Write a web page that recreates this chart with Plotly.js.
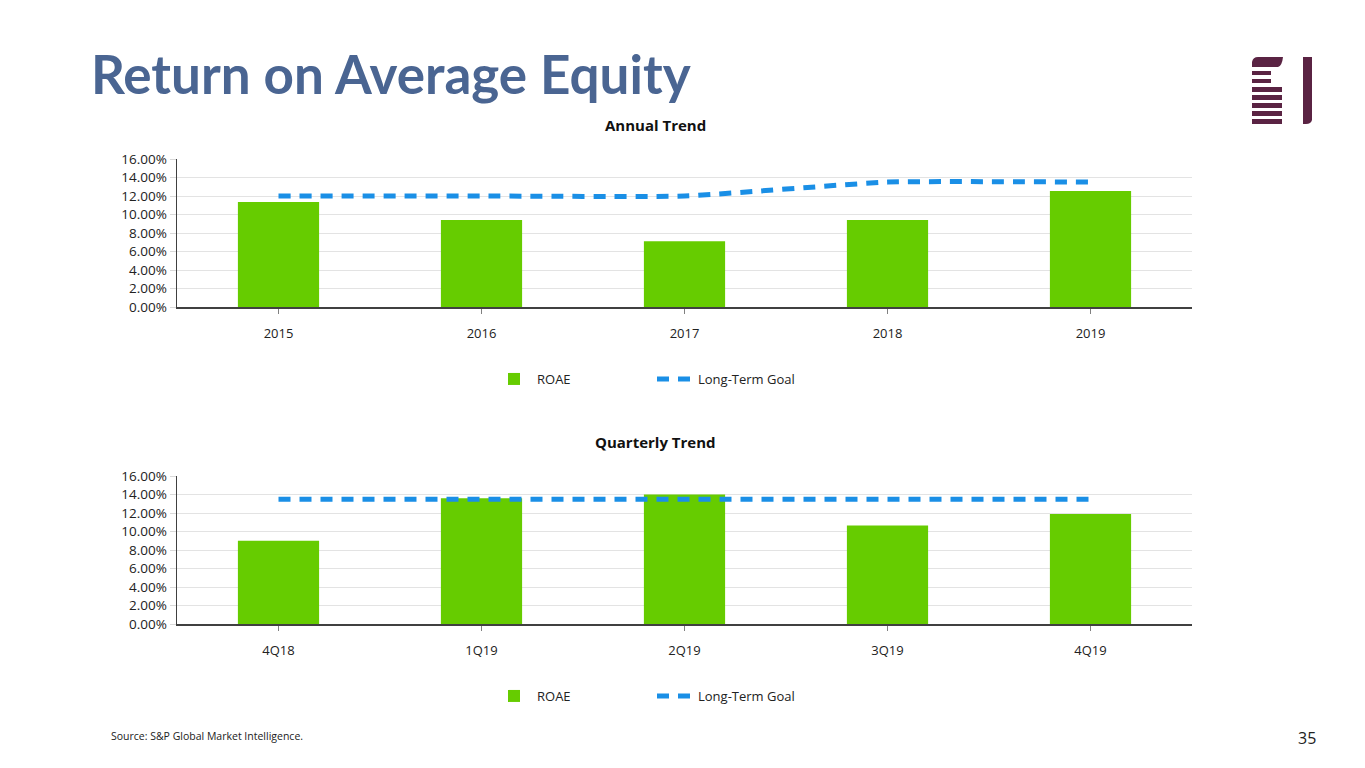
<!DOCTYPE html>
<html>
<head>
<meta charset="utf-8">
<script src="https://cdn.plot.ly/plotly-3.0.1.min.js"></script>
<style>
html,body{margin:0;padding:0;background:#fff;}
#chart{width:1365px;height:768px;}
</style>
</head>
<body>
<div id="chart"></div>
<script>
// ---- data ----
const annualCategories = ["2015", "2016", "2017", "2018", "2019"];
const annualROAE = [11.35, 9.4, 7.1, 9.4, 12.55];
const annualGoal = [12.0, 12.0, 12.0, 13.5, 13.5];

const quarterCategories = ["4Q18", "1Q19", "2Q19", "3Q19", "4Q19"];
const quarterROAE = [9.0, 13.6, 14.0, 10.65, 11.9];
const quarterGoal = [13.5, 13.5, 13.5, 13.5, 13.5];

const yTicks = [0, 2, 4, 6, 8, 10, 12, 14, 16];
const yTickLabels = ["0.00%", "2.00%", "4.00%", "6.00%", "8.00%", "10.00%", "12.00%", "14.00%", "16.00%"];

// ---- styling ----
const W = 1365, H = 768;
const barColor = "#66cc00";
const goalColor = "#1a8fe6";
const font = "Open Sans, Lato, sans-serif";
const px = v => v / W;
const py = v => 1 - v / H;

const traces = [
  {type: "bar", x: annualCategories, y: annualROAE, name: "ROAE", xaxis: "x", yaxis: "y",
   marker: {color: barColor}, width: 0.4, legend: "legend", hoverinfo: "skip"},
  {type: "scatter", mode: "lines", x: annualCategories, y: annualGoal, name: "Long-Term Goal", xaxis: "x", yaxis: "y",
   line: {color: goalColor, width: 5, dash: "12px,9px", shape: "spline", smoothing: 0.45}, legend: "legend", hoverinfo: "skip"},
  {type: "bar", x: quarterCategories, y: quarterROAE, name: "ROAE", xaxis: "x2", yaxis: "y2",
   marker: {color: barColor}, width: 0.4, legend: "legend2", hoverinfo: "skip"},
  {type: "scatter", mode: "lines", x: quarterCategories, y: quarterGoal, name: "Long-Term Goal", xaxis: "x2", yaxis: "y2",
   line: {color: goalColor, width: 5, dash: "12px,9px"}, legend: "legend2", hoverinfo: "skip"}
];

function xAxis(anchor) {
  return {
    domain: [px(177), px(1192)], anchor: anchor, type: "category",
    showline: true, linecolor: "#404040", linewidth: 1.5,
    ticks: "outside", ticklen: 5, tickcolor: "#808080",
    ticklabelstandoff: 9,
    tickfont: {family: font, size: 13, color: "#222"},
    showgrid: false, zeroline: false, fixedrange: true
  };
}
function yAxis(anchor, top, bottom) {
  return {
    domain: [py(bottom), py(top)], anchor: anchor, range: [0, 16],
    tickvals: yTicks, ticktext: yTickLabels,
    showline: true, linecolor: "#404040", linewidth: 1.5,
    ticks: "outside", ticklen: 6, tickcolor: "#d9d9d9",
    showgrid: true, gridcolor: "#e3e3e3", gridwidth: 1,
    tickfont: {family: font, size: 13.5, color: "#222"},
    zeroline: false, fixedrange: true
  };
}

const logo = "#5a2343";
const shapes = [];
// logo: horizontal bars [x0, x1, yTop, yBottom] in pixels
const logoBars = [[1252, 1271, 71, 75], [1252, 1271, 79, 83], [1252, 1282, 87, 92], [1252, 1282, 95, 100], [1252, 1282, 103, 108], [1252, 1282, 111, 116], [1252, 1282, 119, 124]];
logoBars.forEach(b => shapes.push({type: "rect", xref: "paper", yref: "paper", x0: px(b[0]), x1: px(b[1]), y0: py(b[3]), y1: py(b[2]), fillcolor: logo, line: {width: 0}}));
// top rounded bar
shapes.push({type: "path", xref: "paper", yref: "paper",
  path: `M ${px(1252)} ${py(67)} L ${px(1252)} ${py(62)} Q ${px(1253)} ${py(57)} ${px(1258)} ${py(57)} L ${px(1283)} ${py(57)} Q ${px(1282)} ${py(66)} ${px(1278)} ${py(67)} Z`,
  fillcolor: logo, line: {width: 0}});
// vertical bar with rounded bottom-left
shapes.push({type: "path", xref: "paper", yref: "paper",
  path: `M ${px(1303)} ${py(57)} L ${px(1312)} ${py(57)} L ${px(1312)} ${py(120)} Q ${px(1311)} ${py(124)} ${px(1306)} ${py(124)} L ${px(1303)} ${py(124)} Z`,
  fillcolor: logo, line: {width: 0}});

const legendCommon = {orientation: "h", xanchor: "left", yanchor: "top",
  font: {family: font, size: 13, color: "#222"}, entrywidth: 110, itemwidth: 36,
  traceorder: "normal", bgcolor: "rgba(0,0,0,0)"};

const layout = {
  width: W, height: H,
  margin: {l: 0, r: 0, t: 0, b: 0},
  paper_bgcolor: "#ffffff", plot_bgcolor: "#ffffff",
  font: {family: font, color: "#222"},
  showlegend: true,
  xaxis: xAxis("y"), yaxis: yAxis("x", 159, 307),
  xaxis2: xAxis("y2"), yaxis2: yAxis("x2", 476, 624),
  legend: Object.assign({x: px(491), y: py(364)}, legendCommon),
  legend2: Object.assign({x: px(491), y: py(681)}, legendCommon),
  shapes: shapes,
  annotations: [
    {text: "<b>Return on Average Equity</b>", xref: "paper", yref: "paper", x: px(89), y: py(73), xanchor: "left", yanchor: "middle",
     showarrow: false, font: {family: "Lato, Open Sans, sans-serif", size: 53, color: "#4a6592"}},
    {text: "<b>Annual Trend</b>", xref: "paper", yref: "paper", x: px(655), y: py(125), xanchor: "center", yanchor: "middle",
     showarrow: false, font: {family: font, size: 15, color: "#111"}},
    {text: "<b>Quarterly Trend</b>", xref: "paper", yref: "paper", x: px(655), y: py(442), xanchor: "center", yanchor: "middle",
     showarrow: false, font: {family: font, size: 15, color: "#111"}},
    {text: "Source: S&P Global Market Intelligence.", xref: "paper", yref: "paper", x: px(109), y: py(736), xanchor: "left", yanchor: "middle",
     showarrow: false, font: {family: font, size: 10.5, color: "#222"}},
    {text: "35", xref: "paper", yref: "paper", x: px(1318), y: py(738), xanchor: "right", yanchor: "middle",
     showarrow: false, font: {family: font, size: 16, color: "#222"}}
  ]
};

Plotly.newPlot("chart", traces, layout, {displayModeBar: false, staticPlot: true});
</script>
</body>
</html>
